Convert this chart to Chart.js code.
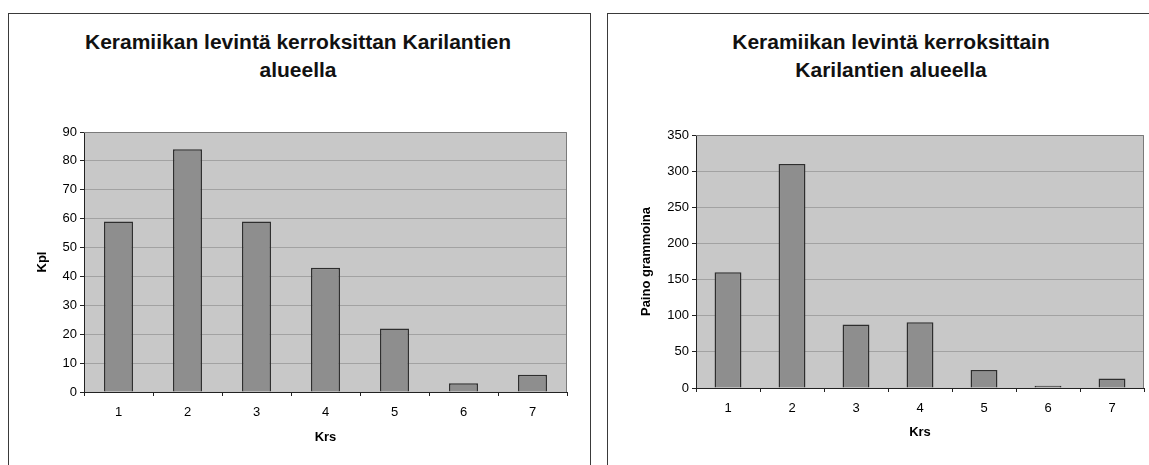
<!DOCTYPE html>
<html>
<head>
<meta charset="utf-8">
<script src="https://cdn.jsdelivr.net/npm/chart.js@4/dist/chart.umd.min.js"></script>
<style>
  html, body { margin: 0; padding: 0; background: #fff; width: 1149px; height: 465px; overflow: hidden; }
  .panel { position: absolute; top: 13px; height: 470px; border: 1px solid #3a3a3a; box-sizing: border-box; }
  #p1 { left: 8px; width: 583px; }
  #p2 { left: 607px; width: 560px; }
  .wrap { position: absolute; top: 0; }
  .title { position: absolute; top: 28px; width: 500px; text-align: center; font: bold 21px/28px Arial, "Liberation Sans", sans-serif; color: #111; }
</style>
</head>
<body>
<div class="panel" id="p1"></div>
<div class="panel" id="p2"></div>
<div class="title" id="t1" style="left:48px"></div>
<div class="title" id="t2" style="left:641px"></div>
<div class="wrap" style="left:9px;top:14px;width:580px;height:451px"><canvas id="c1"></canvas></div>
<div class="wrap" style="left:608px;top:14px;width:541px;height:451px"><canvas id="c2"></canvas></div>
<script>
// categories (kerros)
const layers = ['1', '2', '3', '4', '5', '6', '7'];
// left: pieces (kpl)
const countValues = [59, 84, 59, 43, 22, 3, 6];
// right: weight in grams
const weightValues = [160, 310, 88, 91, 25, 3, 13];

const leftTitle = ['Keramiikan levintä kerroksittan Karilantien', 'alueella'];
const rightTitle = ['Keramiikan levintä kerroksittain', 'Karilantien alueella'];

document.getElementById('t1').innerHTML = leftTitle.join('<br>');
document.getElementById('t2').innerHTML = rightTitle.join('<br>');

const FONT = 'Arial, "Liberation Sans", sans-serif';

// gray plot area like the old Excel chart
const plotBg = {
  id: 'plotBg',
  beforeDraw(chart) {
    const { ctx, chartArea: a } = chart;
    ctx.save();
    ctx.fillStyle = '#c8c8c8';
    ctx.fillRect(a.left, a.top, a.right - a.left, a.bottom - a.top);
    ctx.restore();
  },
  afterDraw(chart) {
    const { ctx, chartArea: a } = chart;
    ctx.save();
    ctx.strokeStyle = '#7a7a7a';
    ctx.lineWidth = 1;
    ctx.beginPath();
    ctx.moveTo(a.left, a.top + 0.5);
    ctx.lineTo(a.right - 0.5, a.top + 0.5);
    ctx.lineTo(a.right - 0.5, a.bottom);
    ctx.stroke();
    ctx.restore();
  },
};

function makeChart(el, o) {
  return new Chart(el, {
    type: 'bar',
    data: {
      labels: layers,
      datasets: [{
        data: o.values,
        backgroundColor: '#8e8e8e',
        borderColor: '#2e2e2e',
        borderWidth: 1.5,
        categoryPercentage: 1,
        barPercentage: 0.42,
      }],
    },
    options: {
      responsive: true, maintainAspectRatio: false, animation: false,
      layout: { padding: { left: 0, right: o.padRight, top: o.padTop, bottom: 0 } },
      plugins: {
        legend: { display: false },
        tooltip: { enabled: false },
      },
      scales: {
        x: {
          afterFit: (s) => { s.height = o.xHeight; },
          grid: { display: true, drawOnChartArea: false, offset: true, tickLength: 4, tickColor: '#222' },
          border: { color: '#222', width: 1 },
          ticks: { color: '#000', font: { family: FONT, size: 13 }, padding: 9 },
          title: { display: true, text: 'Krs', color: '#000', font: { family: FONT, size: 13, weight: 'bold' }, padding: { top: 0, bottom: o.xTitleBottom } },
        },
        y: {
          min: 0, max: o.max,
          afterFit: (s) => { s.width = o.yWidth; },
          grid: { color: '#a2a2a2', lineWidth: 1, tickLength: 4, tickColor: '#222' },
          border: { color: '#222', width: 1 },
          ticks: { stepSize: o.step, color: '#000', font: { family: FONT, size: 13 }, padding: 3 },
          title: { display: true, text: o.yTitle, color: '#000', font: { family: FONT, size: 13, weight: 'bold' }, padding: { top: o.yTitleTop, bottom: 0 } },
        },
      },
    },
    plugins: [plotBg],
  });
}

makeChart(document.getElementById('c1'), {
  values: countValues, max: 90, step: 10, yTitle: 'Kpl',
  padRight: 22, padTop: 118, yWidth: 75, yTitleTop: 26, xHeight: 73, xTitleBottom: 20,
});

makeChart(document.getElementById('c2'), {
  values: weightValues, max: 350, step: 50, yTitle: 'Paino grammoina',
  padRight: 5, padTop: 121, yWidth: 88, yTitleTop: 31, xHeight: 77, xTitleBottom: 25,
});
</script>
</body>
</html>
